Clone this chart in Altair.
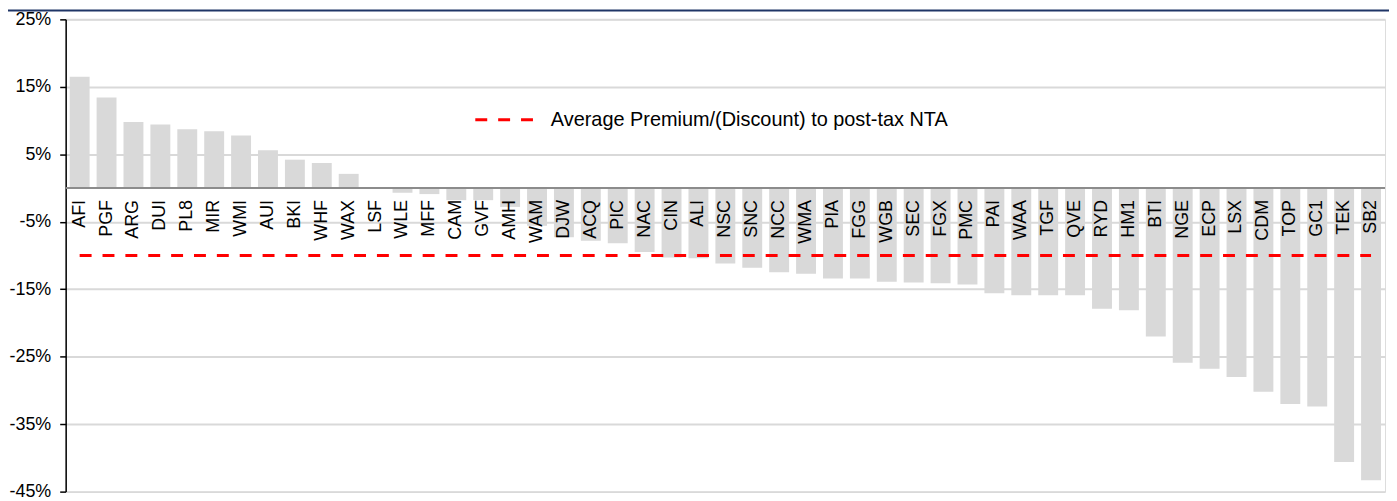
import altair as alt
import pandas as pd

tickers = ["AFI", "PGF", "ARG", "DUI", "PL8", "MIR", "WMI", "AUI", "BKI", "WHF", "WAX", "LSF",
           "WLE", "MFF", "CAM", "GVF", "AMH", "WAM", "DJW", "ACQ", "PIC", "NAC", "CIN", "ALI",
           "NSC", "SNC", "NCC", "WMA", "PIA", "FGG", "WGB", "SEC", "FGX", "PMC", "PAI", "WAA",
           "TGF", "QVE", "RYD", "HM1", "BTI", "NGE", "ECP", "LSX", "CDM", "TOP", "GC1", "TEK", "SB2"]
premium = [16.5, 13.4, 9.8, 9.4, 8.7, 8.4, 7.8, 5.6, 4.2, 3.7, 2.1, 0.0,
           -0.7, -0.9, -1.8, -1.8, -2.8, -5.6, -7.3, -7.8, -8.2, -9.5, -10.3, -10.4,
           -11.2, -11.8, -12.5, -12.7, -13.4, -13.4, -13.9, -14.0, -14.1, -14.3, -15.6, -15.9,
           -15.9, -15.9, -17.9, -18.1, -22.0, -25.9, -26.8, -28.0, -30.2, -32.0, -32.4, -40.6, -43.3]
average = -10.0
legend_label = "Average Premium/(Discount) to post-tax NTA"
y_ticks = [-45, -35, -25, -15, -5, 5, 15, 25]

FONT = "Liberation Sans"
W, H = 1327, 475

df = pd.DataFrame({"ticker": tickers, "value": premium})
avg_df = pd.DataFrame({"ticker": [tickers[0], tickers[-1]], "value": [average, average]})

x_enc = alt.X("ticker:N", sort=tickers,
              scale=alt.Scale(paddingInner=0.26, paddingOuter=0.15),
              axis=None)
y_scale = alt.Scale(domain=[-45, 25], nice=False, zero=False)

bars = alt.Chart(df).mark_bar(color="#d9d9d9").encode(
    x=x_enc,
    y=alt.Y("value:Q", scale=y_scale,
            axis=alt.Axis(values=y_ticks, labelExpr="datum.value + '%'", title=None,
                          grid=True, gridColor="#d9d9d9", gridWidth=2,
                          domainColor="black", domainWidth=1.5,
                          tickColor="black", tickWidth=1.5, tickSize=6,
                          labelPadding=9, labelFont=FONT, labelFontSize=18,
                          labelColor="black")),
    y2=alt.datum(0),
)

zero_line = alt.Chart(df).mark_rule(color="#8c8c8c", strokeWidth=2).encode(
    y=alt.Y("z:Q", scale=y_scale),
    x=alt.value(0), x2=alt.value(W),
).transform_calculate(z="0").transform_filter("datum.ticker == 'AFI'")

labels = alt.Chart(df).mark_text(angle=270, align="right", baseline="middle",
                                 font=FONT, fontSize=18, color="black", dx=-12).encode(
    x=x_enc,
    y=alt.Y("z:Q", scale=y_scale),
    text="ticker:N",
).transform_calculate(z="0")

avg_line = alt.Chart(avg_df).mark_line(color="#ff0000", strokeWidth=3,
                                       strokeDash=[12, 11]).encode(
    x=x_enc,
    y=alt.Y("value:Q", scale=y_scale),
)

leg_df = pd.DataFrame({"label": [legend_label]})
leg_line = alt.Chart(leg_df).mark_rule(color="#ff0000", strokeWidth=3,
                                       strokeDash=[12, 11]).encode(
    x=alt.value(412), x2=alt.value(474), y=alt.value(101),
)
leg_text = alt.Chart(leg_df).mark_text(align="left", baseline="middle", font=FONT,
                                       fontSize=20, color="black").encode(
    x=alt.value(488), y=alt.value(101), text="label:N",
)

top_line = alt.Chart(leg_df).mark_rule(color="#1f3566", strokeWidth=2).encode(
    x=alt.value(-58), x2=alt.value(W + 4), y=alt.value(-9),
)

chart = alt.layer(bars, zero_line, avg_line, labels, leg_line, leg_text, top_line).properties(
    width=W, height=H,
    autosize=alt.AutoSizeParams(type="none"),
    padding={"left": 58, "top": 10, "right": 4, "bottom": 8},
).configure_view(stroke=None).configure(background="white")

chart.save("out.html", embed_options={"renderer": "svg", "actions": False})
